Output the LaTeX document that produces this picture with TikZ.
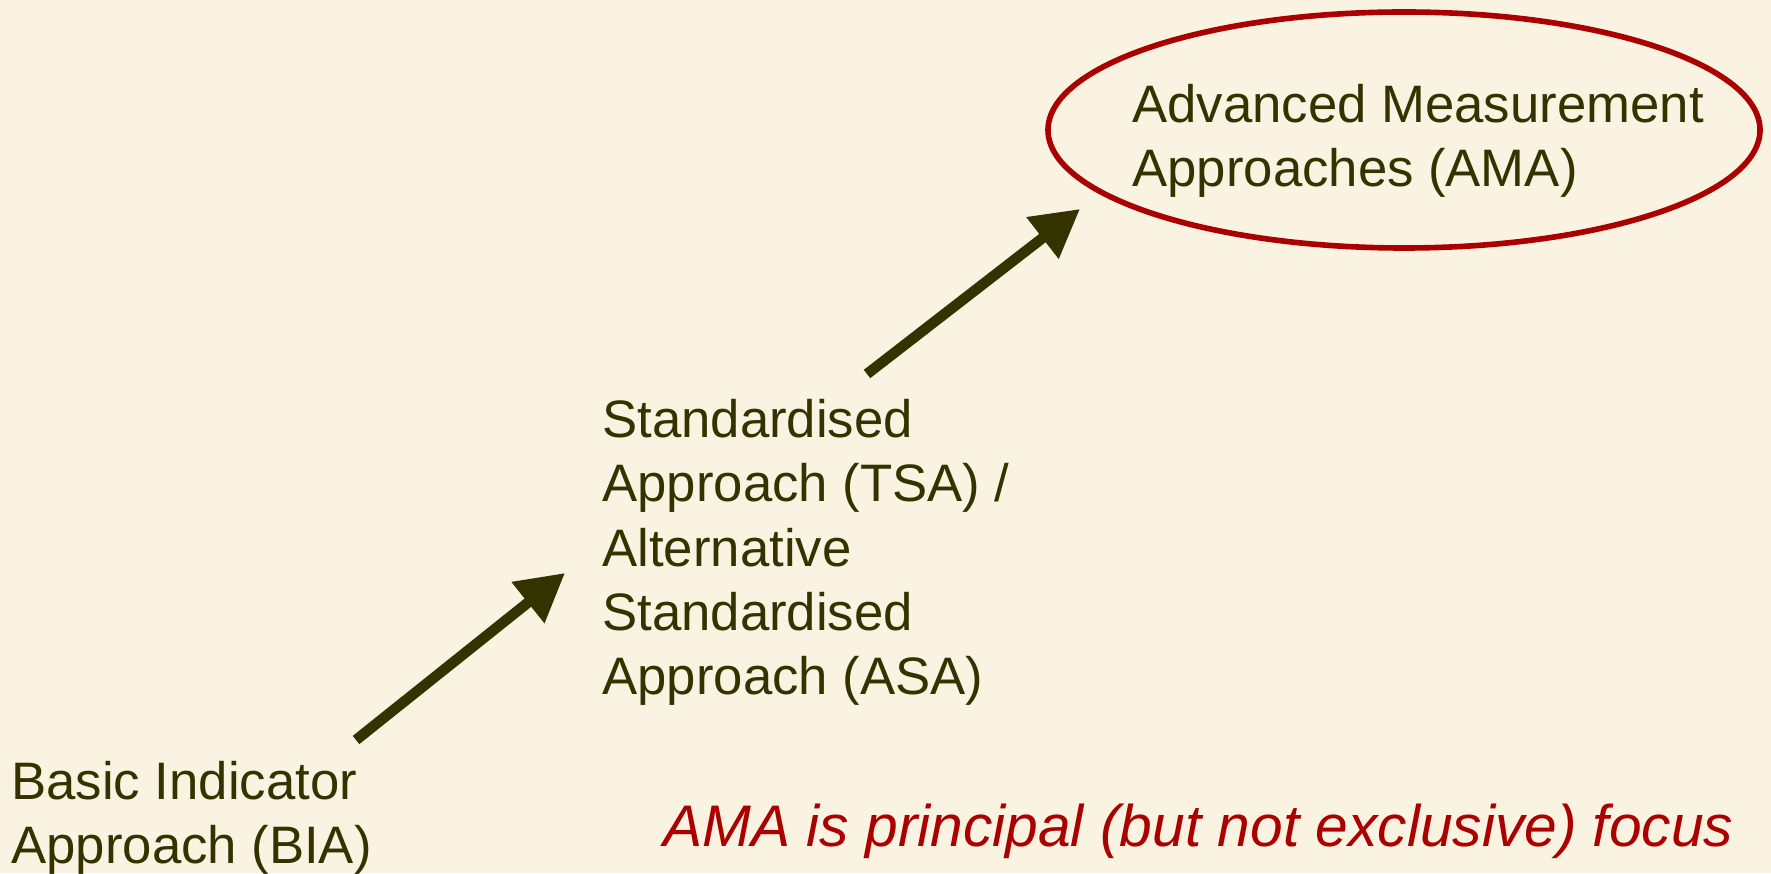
\documentclass[tikz,border=0pt]{standalone}
\usepackage{fontspec}
\setmainfont{Liberation Sans}
\usepackage{tikz}
\usetikzlibrary{arrows.meta, shapes, calc, positioning}
\usepackage{xcolor}
\definecolor{paper}{HTML}{FBF3E2}
\definecolor{olive}{HTML}{333300}
\definecolor{deepred}{HTML}{AA0000}

\tikzset{
  stage/.style={inner sep=0pt, align=left, text=olive, font=\fontsize{30}{36.5}\selectfont},
  climb/.style={olive, line width=6pt, -{Triangle[length=0.95cm, width=1.0cm]}}
}

\begin{document}
\begin{tikzpicture}
  % page background
  \fill[paper] (0,0) rectangle (35.42,17.46);
  \useasboundingbox (0,0) rectangle (35.42,17.46);

  % target ring
  \draw[deepred, line width=3.2pt] (28.08,14.86) ellipse (7.12cm and 2.36cm);

  % the three stages
  \node[stage, anchor=west] (bia) at (0.22,1.11) {Basic Indicator\\Approach (BIA)};
  \node[stage, anchor=west] (tsa) at (12.04,6.41) {Standardised\\Approach (TSA) /\\Alternative\\Standardised\\Approach (ASA)};
  \node[stage, anchor=west] (ama) at (22.64,14.65) {Advanced Measurement\\Approaches (AMA)};

  % arrow ends
  \coordinate (a1) at (7.12,2.66);
  \coordinate (b1) at (11.30,6.00);
  \coordinate (a2) at (17.34,9.98);
  \coordinate (b2) at (21.60,13.28);

  % arrows
  \draw[climb] (a1) -- (b1);
  \draw[climb] (a2) -- (b2);

  % note
  \node[anchor=base west, inner sep=0pt, text=deepred, font=\fontsize{33.4}{40}\selectfont\itshape] (note) at (13.26,0.54) {AMA is principal (but not exclusive) focus};
\end{tikzpicture}
\end{document}
